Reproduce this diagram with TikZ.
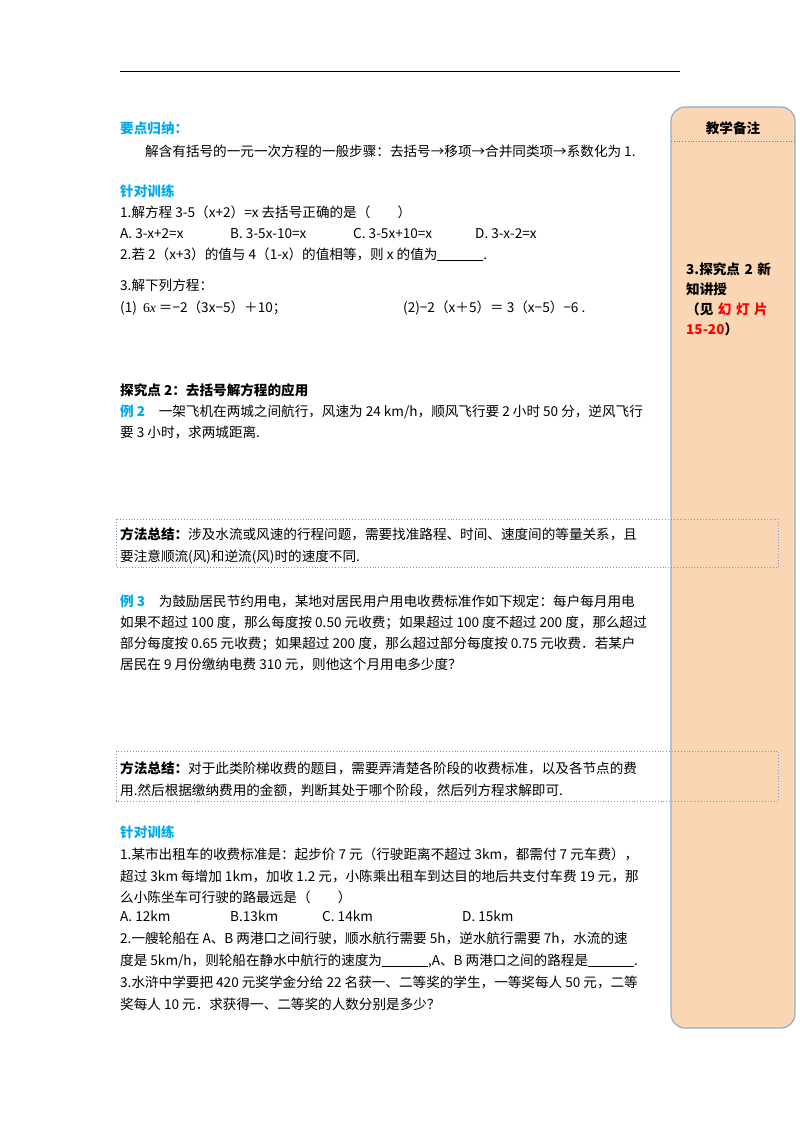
\documentclass[tikz,border=0pt]{standalone}
\usepackage{fontspec}
\setmainfont{Noto Sans CJK SC}
\newfontfamily\latinserif{Liberation Serif}
\begin{document}
\definecolor{hblue}{RGB}{0,170,235}
\definecolor{peach}{RGB}{251,214,180}
\definecolor{sideedge}{RGB}{150,170,200}
\definecolor{boxedge}{RGB}{120,150,200}
\begin{tikzpicture}[x=1pt,y=-1pt,
  ln/.style={anchor=base west,inner sep=0pt,font=\fontsize{13.6}{15}\selectfont},
  hd/.style={ln,text=hblue,font=\fontsize{13.6}{15}\selectfont\bfseries},
  bd/.style={ln,font=\fontsize{13.6}{15}\selectfont\bfseries}]
\useasboundingbox (0,0) rectangle (800,1132);
\draw[line width=1pt] (120,72) -- (680,72);
% sidebar
\draw[sideedge,fill=peach,line width=1.2pt,rounded corners=14pt] (671,107) rectangle (795,1028);
\draw[gray,dotted,line width=0.8pt] (671,141) -- (795,141);
\node[bd,anchor=base] (sbh) at (733,133) {教学备注};
\node[bd,anchor=base west,align=left,text width=104pt,font=\fontsize{13.6}{20}\selectfont\bfseries] (sbt) at (686,274) {3.探究点 2 新\\知讲授\\（见 \textcolor{red}{幻 灯 片}\\\textcolor{red}{15-20}）};
% top section
\node[hd] (h1) at (120,133) {要点归纳：};
\node[ln] (t1) at (145,156) {解含有括号的一元一次方程的一般步骤：去括号→移项→合并同类项→系数化为 1.};
\node[hd] (h2) at (120,196) {针对训练};
\node[ln] (q1) at (120,217) {1.解方程 3-5（x+2）=x 去括号正确的是（\qquad）};
\node[ln] (qa) at (120,238) {A.\ 3-x+2=x};
\node[ln] (qb) at (230,238) {B.\ 3-5x-10=x};
\node[ln] (qc) at (353,238) {C.\ 3-5x+10=x};
\node[ln] (qd) at (475,238) {D.\ 3-x-2=x};
\node[ln] (q2) at (120,259) {2.若 2（x+3）的值与 4（1-x）的值相等，则 x 的值为\underline{\hspace{46pt}}.};
\node[ln] (q3) at (120,290) {3.解下列方程：};
\node[ln] (q31) at (120,312) {(1)\ \ {\latinserif 6\textit{x}} ＝−2（3\textit{x}−5）＋10；};
\node[ln] (q32) at (403,312) {(2)−2（\textit{x}＋5）＝ 3（\textit{x}−5）−6 .};
% 探究点2
\node[bd] (h3) at (120,395) {探究点 2：去括号解方程的应用};
\node[ln] (e2a) at (120,416) {\textcolor{hblue}{\bfseries 例 2}\quad 一架飞机在两城之间航行，风速为 24 km/h，顺风飞行要 2 小时 50 分，逆风飞行};
\node[ln] (e2b) at (120,437) {要 3 小时，求两城距离.};
\draw[boxedge,dotted,line width=0.9pt] (116,519) rectangle (778,567);
\node[ln] (m1a) at (120,539) {\textbf{方法总结：}涉及水流或风速的行程问题，需要找准路程、时间、速度间的等量关系，且};
\node[ln] (m1b) at (120,561) {要注意顺流(风)和逆流(风)时的速度不同.};
\node[ln] (e3a) at (120,606) {\textcolor{hblue}{\bfseries 例 3}\quad 为鼓励居民节约用电，某地对居民用户用电收费标准作如下规定：每户每月用电};
\node[ln] (e3b) at (120,627) {如果不超过 100 度，那么每度按 0.50 元收费；如果超过 100 度不超过 200 度，那么超过};
\node[ln] (e3c) at (120,648) {部分每度按 0.65 元收费；如果超过 200 度，那么超过部分每度按 0.75 元收费．若某户};
\node[ln] (e3d) at (120,669) {居民在 9 月份缴纳电费 310 元，则他这个月用电多少度？};
\draw[boxedge,dotted,line width=0.9pt] (116,751) rectangle (778,801);
\node[ln] (m2a) at (120,773) {\textbf{方法总结：}对于此类阶梯收费的题目，需要弄清楚各阶段的收费标准，以及各节点的费};
\node[ln] (m2b) at (120,795) {用.然后根据缴纳费用的金额，判断其处于哪个阶段，然后列方程求解即可.};
% bottom
\node[hd] (h4) at (120,837) {针对训练};
\node[ln] (b1a) at (120,859) {1.某市出租车的收费标准是：起步价 7 元（行驶距离不超过 3km，都需付 7 元车费），};
\node[ln] (b1b) at (120,881) {超过 3km 每增加 1km，加收 1.2 元，小陈乘出租车到达目的地后共支付车费 19 元，那};
\node[ln] (b1c) at (120,902) {么小陈坐车可行驶的路最远是（\qquad）};
\node[ln] (ba) at (120,921) {A.\ 12km};
\node[ln] (bb) at (230,921) {B.13km};
\node[ln] (bc) at (322,921) {C.\ 14km};
\node[ln] (bd2) at (462,921) {D.\ 15km};
\node[ln] (b2a) at (120,943) {2.一艘轮船在 A、B 两港口之间行驶，顺水航行需要 5h，逆水航行需要 7h，水流的速};
\node[ln] (b2b) at (120,965) {度是 5km/h，则轮船在静水中航行的速度为\underline{\hspace{46pt}},A、B 两港口之间的路程是\underline{\hspace{46pt}}.};
\node[ln] (b3a) at (120,987) {3.水浒中学要把 420 元奖学金分给 22 名获一、二等奖的学生，一等奖每人 50 元，二等};
\node[ln] (b3b) at (120,1009) {奖每人 10 元．求获得一、二等奖的人数分别是多少？};
\end{tikzpicture}
\end{document}
